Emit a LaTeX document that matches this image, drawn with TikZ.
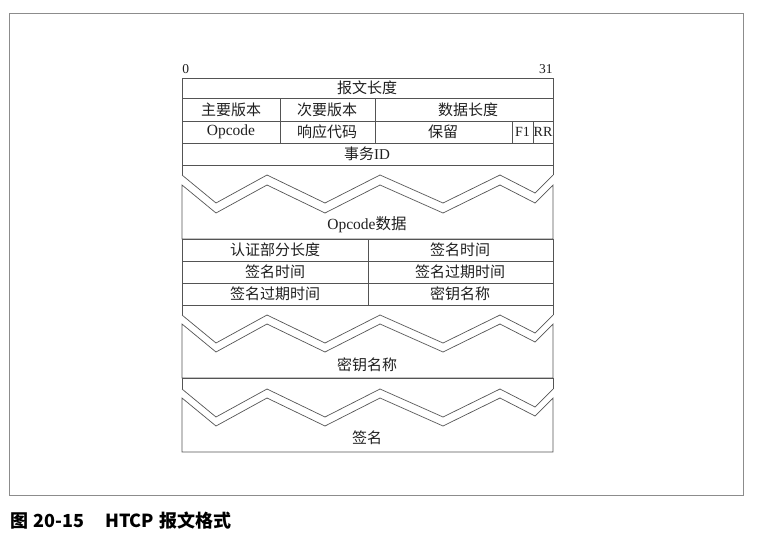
\documentclass[tikz,border=0pt]{standalone}
\usepackage{fontspec}
\setmainfont{Liberation Serif}
\newfontfamily\cjk{Noto Sans CJK SC}
\usepackage{tikz}
\usetikzlibrary{positioning}

\definecolor{rulegray}{gray}{0.33}
\definecolor{framegray}{gray}{0.55}
\definecolor{inkgray}{gray}{0.12}

% one zigzag edge of a cut field, #1 = y of its high points
\newcommand{\zig}[1]{(182,#1)--(216,#1+28)--(267,#1)--(325,#1+28)--(380,#1)--(443,#1+28)--(500,#1)--(535,#1+18)--(553,#1)}

\begin{document}
\begin{tikzpicture}[x=1pt,y=-1pt,line width=0.7pt,draw=rulegray,
  fld/.style={inner sep=0pt,text=inkgray,font=\fontsize{15}{17}\selectfont\cjk},
  lat/.style={inner sep=0pt,text=inkgray,font=\fontsize{15.5}{17}\selectfont},
  flag/.style={inner sep=0pt,text=inkgray,font=\fontsize{14}{16}\selectfont},
  bit/.style={inner sep=0pt,text=inkgray,font=\fontsize{13.5}{15}\selectfont}]
\useasboundingbox (0,0) rectangle (759,538);
\draw[framegray,line width=0.8pt] (9,13) rectangle (743,495);

% fixed header
\node[bit,anchor=base west] (bitlo) at (182,73) {0};
\node[bit,anchor=base east] (bithi) at (553,73) {31};
\draw[rulegray] (182,78) rectangle (553,165);
\foreach \y in {98,121,143} \draw[rulegray] (182,\y) -- (553,\y);
\foreach \x in {280,375} \draw[rulegray] (\x,98) -- (\x,143);
\foreach \x in {512,533} \draw[rulegray] (\x,121) -- (\x,143);
\node[fld] (msglen) at (367,88) {报文长度};
\node[fld] (major) at (231,109.5) {主要版本};
\node[fld] (minor) at (327,109.5) {次要版本};
\node[fld] (datalen) at (468,109.5) {数据长度};
\node[lat] (opcode) at (231,132) {Opcode};
\node[fld] (resp) at (327,132) {响应代码};
\node[fld] (resv) at (443,132) {保留};
\node[flag] (fone) at (522.5,132) {F1};
\node[flag] (rr) at (543,132) {RR};
\node[fld] (transid) at (367,154) {事务\fontspec{Liberation Serif}ID};

% opcode data
\draw[rulegray] (182,175) |- (553,165) -- (553,175);
\draw[rulegray] \zig{175};
\draw[rulegray] \zig{185} -- (553,239) -- (182,239) -- cycle;
\node[lat] (opdata) at (367,225) {Opcode{\cjk 数据}};

% auth
\draw[rulegray] (182,239) rectangle (553,305);
\foreach \y in {261,283} \draw[rulegray] (182,\y) -- (553,\y);
\draw[rulegray] (368,239) -- (368,305);
\node[fld] (authlen) at (275,250) {认证部分长度};
\node[fld] (sigtime) at (460,250) {签名时间};
\node[fld] (sigtimeb) at (275,272) {签名时间};
\node[fld] (sigexp) at (460,272) {签名过期时间};
\node[fld] (sigexpb) at (275,294) {签名过期时间};
\node[fld] (keyname) at (460,294) {密钥名称};

% key name
\draw[rulegray] (182,315) |- (553,305) -- (553,315);
\draw[rulegray] \zig{315};
\draw[rulegray] \zig{324} -- (553,378) -- (182,378) -- cycle;
\node[fld] (keyblk) at (367,365) {密钥名称};

% signature
\draw[rulegray] (182,389) |- (553,378) -- (553,389);
\draw[rulegray] \zig{389};
\draw[rulegray] \zig{398} -- (553,452) -- (182,452) -- cycle;
\node[fld] (sig) at (367,438) {签名};

\node[anchor=west,inner sep=0pt,font=\fontsize{18}{20}\selectfont\cjk\bfseries] (caption) at (10,521) {图\hspace{5pt}20-15\hspace{21pt}HTCP\hspace{5pt}报文格式};
\end{tikzpicture}
\end{document}
